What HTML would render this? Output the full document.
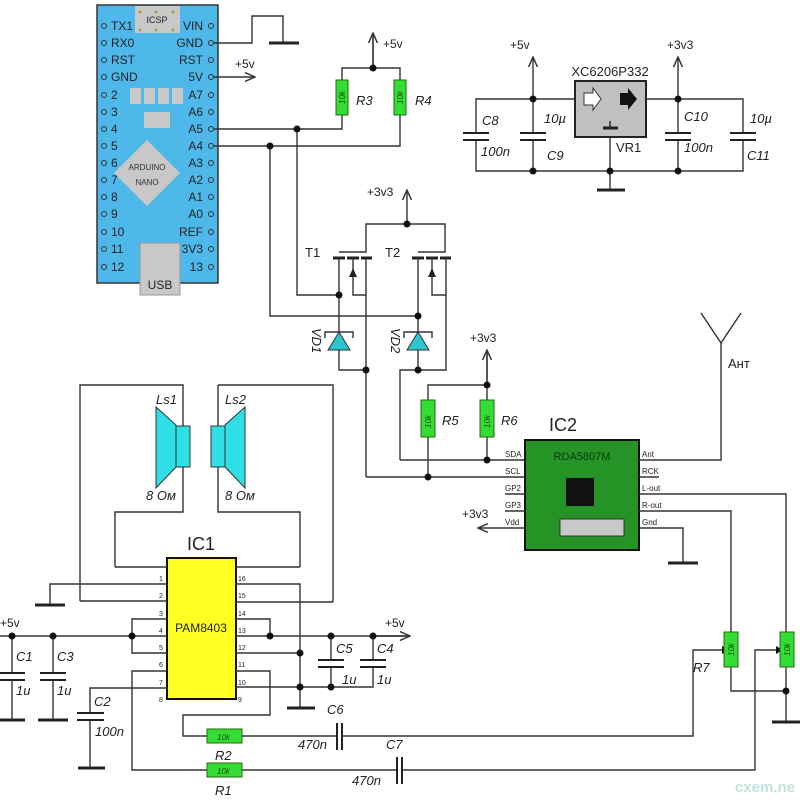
<!DOCTYPE html>
<html><head><meta charset="utf-8"><style>
html,body{margin:0;padding:0;background:#fff;}
svg{display:block;font-family:"Liberation Sans",sans-serif;}
.w{stroke:#333;stroke-width:1.4;fill:none;}
.g{stroke:#222;stroke-width:3;}
.t{font-size:12px;fill:#222;}
.i{font-size:13px;font-style:italic;fill:#222;}
.p{font-size:7px;fill:#222;}
.s{font-size:9px;fill:#222;}
.r{fill:#33dd33;stroke:#2a6a10;stroke-width:1;}
.rt{font-size:8px;font-style:italic;fill:#1a4a10;}
</style></head><body>
<svg width="800" height="800" viewBox="0 0 800 800" xmlns="http://www.w3.org/2000/svg">
<defs>
<marker id="a" viewBox="0 0 10 10" refX="9" refY="5" markerWidth="8" markerHeight="8" orient="auto"><path d="M0,1 L9,5 L0,9" fill="none" stroke="#333" stroke-width="1.3"/></marker>
</defs>
<!-- Arduino -->
<rect x="97" y="5" width="121" height="278" fill="#4fb8ea" stroke="#333" stroke-width="1.5"/>
<rect x="140" y="243" width="40" height="52" fill="#c8c8c8" stroke="#999"/>
<text x="160" y="289" text-anchor="middle" class="t">USB</text>
<rect x="135" y="6" width="45" height="27" fill="#c8c8c8"/>
<text x="157" y="23" text-anchor="middle" style="font-size:9px;fill:#222">ICSP</text>
<g fill="#b0a040"><circle cx="140" cy="12" r="1.5"/><circle cx="156" cy="12" r="1.5"/><circle cx="173" cy="12" r="1.5"/><circle cx="140" cy="30" r="1.5"/><circle cx="156" cy="30" r="1.5"/><circle cx="173" cy="30" r="1.5"/></g>
<g fill="#c8c8c8"><rect x="130" y="88" width="11" height="16"/><rect x="144" y="88" width="11" height="16"/><rect x="158" y="88" width="11" height="16"/><rect x="172" y="88" width="11" height="16"/><rect x="144" y="112" width="26" height="16"/>
<polygon points="147,140 180,173 147,206 114,173"/></g>
<text x="147" y="170" text-anchor="middle" style="font-size:8px;fill:#333">ARDUINO</text>
<text x="147" y="185" text-anchor="middle" style="font-size:8px;fill:#333">NANO</text>
<g class="t" style="font-size:12px">
<text x="111" y="30">TX1</text><text x="111" y="47">RX0</text><text x="111" y="64">RST</text><text x="111" y="81">GND</text><text x="111" y="99">2</text><text x="111" y="116">3</text><text x="111" y="133">4</text><text x="111" y="150">5</text><text x="111" y="167">6</text><text x="111" y="184">7</text><text x="111" y="201">8</text><text x="111" y="218">9</text><text x="111" y="236">10</text><text x="111" y="253">11</text><text x="111" y="271">12</text>
</g>
<g class="t" text-anchor="end">
<text x="203" y="30">VIN</text><text x="203" y="47">GND</text><text x="203" y="64">RST</text><text x="203" y="81">5V</text><text x="203" y="99">A7</text><text x="203" y="116">A6</text><text x="203" y="133">A5</text><text x="203" y="150">A4</text><text x="203" y="167">A3</text><text x="203" y="184">A2</text><text x="203" y="201">A1</text><text x="203" y="218">A0</text><text x="203" y="236">REF</text><text x="203" y="253">3V3</text><text x="203" y="271">13</text>
</g>
<g fill="none" stroke="#333" stroke-width="1">
<circle cx="104" cy="26" r="2.5"/><circle cx="104" cy="43" r="2.5"/><circle cx="104" cy="60" r="2.5"/><circle cx="104" cy="77" r="2.5"/><circle cx="104" cy="95" r="2.5"/><circle cx="104" cy="112" r="2.5"/><circle cx="104" cy="129" r="2.5"/><circle cx="104" cy="146" r="2.5"/><circle cx="104" cy="163" r="2.5"/><circle cx="104" cy="180" r="2.5"/><circle cx="104" cy="197" r="2.5"/><circle cx="104" cy="214" r="2.5"/><circle cx="104" cy="232" r="2.5"/><circle cx="104" cy="249" r="2.5"/><circle cx="104" cy="267" r="2.5"/>
<circle cx="211" cy="26" r="2.5"/><circle cx="211" cy="43" r="2.5"/><circle cx="211" cy="60" r="2.5"/><circle cx="211" cy="77" r="2.5"/><circle cx="211" cy="95" r="2.5"/><circle cx="211" cy="112" r="2.5"/><circle cx="211" cy="129" r="2.5"/><circle cx="211" cy="146" r="2.5"/><circle cx="211" cy="163" r="2.5"/><circle cx="211" cy="180" r="2.5"/><circle cx="211" cy="197" r="2.5"/><circle cx="211" cy="214" r="2.5"/><circle cx="211" cy="232" r="2.5"/><circle cx="211" cy="249" r="2.5"/><circle cx="211" cy="267" r="2.5"/>
</g>
<!-- Arduino wiring -->
<path class="w" d="M213,43 H252 V16 H283 V43"/><line class="g" x1="269" y1="43" x2="299" y2="43"/>
<path class="w" d="M213,77 H255" marker-end="url(#a)"/><text x="235" y="68" class="t">+5v</text>
<path class="w" d="M213,129 H342 V115 M213,146 H400 V115 M342,80 V68 H400 V80 M373,68 V35" />
<path class="w" d="M373,68 V33" marker-end="url(#a)"/><text x="383" y="48" class="t">+5v</text>
<rect x="336" y="80" width="12" height="35" class="r"/><rect x="394" y="80" width="12" height="35" class="r"/>
<text class="rt" transform="translate(345,104) rotate(-90)">10k</text><text class="rt" transform="translate(403,104) rotate(-90)">10k</text>
<text x="356" y="105" class="i">R3</text><text x="415" y="105" class="i">R4</text>
<!-- transistors -->
<path class="w" d="M297,129 V295 H339 M270,146 V316 H418"/>
<path class="w" d="M407,224 V190" marker-end="url(#a)"/><text x="367" y="196" class="t">+3v3</text>
<path class="w" d="M339,252 H366 V224 H445 V252 H418"/>
<g class="g"><line x1="333" y1="258" x2="345" y2="258"/><line x1="347" y1="258" x2="359" y2="258"/><line x1="361" y1="258" x2="372" y2="258"/>
<line x1="412" y1="258" x2="424" y2="258"/><line x1="426" y1="258" x2="438" y2="258"/><line x1="440" y1="258" x2="451" y2="258"/></g>
<path class="w" d="M339,258 V370 H366 M353,258 V295 H366 M366,258 V477 M418,258 V370 M432,258 V295 H446 M446,258 V370 H400 V460"/>
<polygon points="353,268 349,277 357,277" fill="#222"/><polygon points="432,268 428,277 436,277" fill="#222"/>
<text x="305" y="257" class="t" style="font-size:13px">T1</text><text x="385" y="257" class="t" style="font-size:13px">T2</text>
<polygon points="339,332 328,350 350,350" fill="#2bc7d0" stroke="#333"/><path class="w" d="M325,338 V332 H353 V338"/>
<polygon points="418,332 407,350 429,350" fill="#2bc7d0" stroke="#333"/><path class="w" d="M404,338 V332 H432 V338"/>
<text class="i" transform="translate(312,328) rotate(90)">VD1</text><text class="i" transform="translate(391,328) rotate(90)">VD2</text>
<g fill="#111"><circle cx="297" cy="129" r="3.5"/><circle cx="270" cy="146" r="3.5"/><circle cx="373" cy="68" r="3.5"/><circle cx="407" cy="224" r="3.5"/><circle cx="339" cy="295" r="3.5"/><circle cx="418" cy="316" r="3.5"/><circle cx="366" cy="370" r="3.5"/><circle cx="418" cy="370" r="3.5"/></g>
<!-- regulator -->
<rect x="575" y="81" width="71" height="56" fill="#c0c0c0" stroke="#222" stroke-width="2"/>
<text x="610" y="76" text-anchor="middle" class="t" style="font-size:13px">XC6206P332</text>
<polygon points="584,93 593,93 593,88 601,99 593,110 593,105 584,105" fill="#fff" stroke="#333"/>
<polygon points="620,93 628,93 628,88 637,99 628,110 628,105 620,105" fill="#111"/>
<line class="g" x1="603" y1="128" x2="618" y2="128"/><line x1="610" y1="121" x2="610" y2="128" stroke="#222" stroke-width="1.5"/>
<path class="w" d="M575,99 H476 V133 M476,140 V171 H743 V140 M743,133 V99 H646 M533,99 V133 M533,140 V171 M678,99 V133 M678,140 V171 M610,137 V190"/>
<line class="g" x1="597" y1="190" x2="625" y2="190"/>
<g class="g" style="stroke-width:2"><line x1="463" y1="133" x2="489" y2="133"/><line x1="463" y1="140" x2="489" y2="140"/><line x1="520" y1="133" x2="546" y2="133"/><line x1="520" y1="140" x2="546" y2="140"/><line x1="665" y1="133" x2="691" y2="133"/><line x1="665" y1="140" x2="691" y2="140"/><line x1="730" y1="133" x2="756" y2="133"/><line x1="730" y1="140" x2="756" y2="140"/></g>
<path class="w" d="M533,99 V57" marker-end="url(#a)"/><path class="w" d="M678,99 V57" marker-end="url(#a)"/>
<text x="510" y="49" class="t">+5v</text><text x="667" y="49" class="t">+3v3</text>
<text x="482" y="125" class="i">C8</text><text x="481" y="156" class="i">100n</text><text x="544" y="123" class="i">10µ</text><text x="547" y="160" class="i">C9</text>
<text x="616" y="152" class="t" style="font-size:13px">VR1</text>
<text x="684" y="121" class="i">C10</text><text x="684" y="152" class="i">100n</text><text x="750" y="123" class="i">10µ</text><text x="747" y="160" class="i">C11</text>
<g fill="#111"><circle cx="533" cy="99" r="3.5"/><circle cx="678" cy="99" r="3.5"/><circle cx="533" cy="171" r="3.5"/><circle cx="610" cy="171" r="3.5"/><circle cx="678" cy="171" r="3.5"/></g>
<!-- R5 R6 IC2 -->
<path class="w" d="M428,400 V385 H487 V400 M487,385 V352 M428,437 V477 M487,437 V460 M400,460 H525 M366,477 H525"/>
<path class="w" d="M487,385 V350" marker-end="url(#a)"/><text x="470" y="342" class="t">+3v3</text>
<rect x="421" y="400" width="14" height="37" class="r"/><rect x="480" y="400" width="14" height="37" class="r"/>
<text class="rt" transform="translate(431,428) rotate(-90)">10k</text><text class="rt" transform="translate(490,428) rotate(-90)">10k</text>
<text x="442" y="425" class="i">R5</text><text x="501" y="425" class="i">R6</text>
<rect x="525" y="440" width="114" height="110" fill="#259326" stroke="#111" stroke-width="2"/>
<text x="563" y="431" class="t" style="font-size:18px" text-anchor="middle">IC2</text>
<text x="582" y="460" class="t" text-anchor="middle" style="font-size:11px;fill:#0e3a0e">RDA5807M</text>
<rect x="566" y="478" width="28" height="28" fill="#111"/>
<rect x="560" y="519" width="64" height="17" fill="#c8c8c8" stroke="#333"/>
<path class="w" d="M505,494 H525 M505,511 H525 M505,528 H525 M639,460 H721 V343 M639,477 H659 M639,494 H786 V632 M639,511 H731 V632 M639,528 H683 V563"/>
<path class="w" d="M505,528 H478" marker-end="url(#a)"/><text x="462" y="518" class="t">+3v3</text>
<line class="g" x1="668" y1="563" x2="698" y2="563"/>
<path class="w" d="M701,313 L721,343 L741,313"/><text x="728" y="368" class="t" style="font-size:13px">Ант</text>
<g class="p" style="font-size:8px"><text x="505" y="457">SDA</text><text x="505" y="474">SCL</text><text x="505" y="491">GP2</text><text x="505" y="508">GP3</text><text x="505" y="525">Vdd</text>
<text x="642" y="457">Ant</text><text x="642" y="474">RCK</text><text x="642" y="491">L-out</text><text x="642" y="508">R-out</text><text x="642" y="525">Gnd</text></g>
<g fill="#111"><circle cx="487" cy="385" r="3.5"/><circle cx="487" cy="460" r="3.5"/><circle cx="428" cy="477" r="3.5"/></g>
<!-- speakers -->
<path class="w" d="M80,601 V385 H183 V512 H115 V567 M218,385 V512 H300 V567 M218,385 H333 V602"/>
<polygon points="156,407 176,425 176,467 156,488" fill="#2ee0e6" stroke="#333"/><rect x="176" y="426" width="14" height="41" fill="#2ee0e6" stroke="#333"/>
<polygon points="245,407 225,425 225,467 245,488" fill="#2ee0e6" stroke="#333"/><rect x="211" y="426" width="14" height="41" fill="#2ee0e6" stroke="#333"/>
<text x="156" y="404" class="i">Ls1</text><text x="225" y="404" class="i">Ls2</text>
<text x="146" y="500" class="i">8 Ом</text><text x="225" y="500" class="i">8 Ом</text>
<!-- IC1 -->
<rect x="167" y="558" width="69" height="141" fill="#ffff22" stroke="#111" stroke-width="2"/>
<text x="201" y="550" class="t" style="font-size:18px" text-anchor="middle">IC1</text>
<text x="201" y="632" class="t" style="font-size:12px" text-anchor="middle">PAM8403</text>
<path class="w" d="M115,567 H167 M167,584 H50 V605 M80,601 H167 M167,619 H132 V653 H167 M0,636 H167 M167,671 H132 V770 H207 M167,688 H90 V713 M90,720 V768
M236,567 H300 M236,584 H300 V708 M236,602 H333 M236,619 H270 V636 M236,636 H410 M236,653 H300 M236,687 H373 V667 M331,687 V667 M331,636 V660 M373,636 V660
M236,671 H270 V715 H183 V736 H207 M242,736 H337 M342,736 H693 V650 H722 M242,770 H397 M402,770 H755 V650 H776
M12,636 V673 M12,680 V720 M53,636 V673 M53,680 V720
M731,667 V691 H786 V722 M786,667 V691"/>
<path class="w" d="M373,636 H410" marker-end="url(#a)"/>
<polygon points="722,646 722,654 729,650" fill="#111"/><polygon points="776,646 776,654 783,650" fill="#111"/>
<g class="g"><line x1="35" y1="605" x2="65" y2="605"/><line x1="0" y1="720" x2="25" y2="720"/><line x1="38" y1="720" x2="68" y2="720"/><line x1="78" y1="768" x2="105" y2="768"/><line x1="287" y1="708" x2="315" y2="708"/><line x1="772" y1="722" x2="800" y2="722"/></g>
<g class="g" style="stroke-width:2"><line x1="0" y1="673" x2="25" y2="673"/><line x1="0" y1="680" x2="25" y2="680"/><line x1="40" y1="673" x2="66" y2="673"/><line x1="40" y1="680" x2="66" y2="680"/><line x1="77" y1="713" x2="104" y2="713"/><line x1="77" y1="720" x2="104" y2="720"/>
<line x1="318" y1="660" x2="344" y2="660"/><line x1="318" y1="667" x2="344" y2="667"/><line x1="360" y1="660" x2="386" y2="660"/><line x1="360" y1="667" x2="386" y2="667"/>
<line x1="337" y1="723" x2="337" y2="750"/><line x1="342" y1="723" x2="342" y2="750"/><line x1="397" y1="757" x2="397" y2="784"/><line x1="402" y1="757" x2="402" y2="784"/></g>
<rect x="207" y="729" width="35" height="14" class="r"/><rect x="207" y="763" width="35" height="14" class="r"/>
<text x="217" y="740" class="rt">10k</text><text x="217" y="774" class="rt">10k</text>
<rect x="724" y="632" width="14" height="35" class="r"/><rect x="780" y="632" width="14" height="35" class="r"/>
<text class="rt" transform="translate(734,656) rotate(-90)">10k</text><text class="rt" transform="translate(790,656) rotate(-90)">10k</text>
<g class="p"><text x="159" y="581">1</text><text x="159" y="598">2</text><text x="159" y="616">3</text><text x="159" y="633">4</text><text x="159" y="650">5</text><text x="159" y="667">6</text><text x="159" y="685">7</text><text x="159" y="702">8</text>
<text x="238" y="581">16</text><text x="238" y="598">15</text><text x="238" y="616">14</text><text x="238" y="633">13</text><text x="238" y="650">12</text><text x="238" y="667">11</text><text x="238" y="685">10</text><text x="238" y="702">9</text></g>
<text x="0" y="627" class="t">+5v</text><text x="385" y="627" class="t">+5v</text>
<text x="16" y="661" class="i">C1</text><text x="16" y="695" class="i">1u</text><text x="57" y="661" class="i">C3</text><text x="57" y="695" class="i">1u</text>
<text x="94" y="706" class="i">C2</text><text x="95" y="736" class="i">100n</text>
<text x="336" y="653" class="i">C5</text><text x="342" y="684" class="i">1u</text><text x="377" y="653" class="i">C4</text><text x="377" y="684" class="i">1u</text>
<text x="327" y="714" class="i">C6</text><text x="298" y="749" class="i">470n</text><text x="386" y="749" class="i">C7</text><text x="352" y="785" class="i">470n</text>
<text x="215" y="760" class="i">R2</text><text x="215" y="795" class="i">R1</text><text x="693" y="672" class="i">R7</text>
<g fill="#111"><circle cx="132" cy="636" r="3.5"/><circle cx="12" cy="636" r="3.5"/><circle cx="53" cy="636" r="3.5"/><circle cx="270" cy="636" r="3.5"/><circle cx="331" cy="636" r="3.5"/><circle cx="373" cy="636" r="3.5"/><circle cx="300" cy="653" r="3.5"/><circle cx="300" cy="687" r="3.5"/><circle cx="331" cy="687" r="3.5"/><circle cx="786" cy="691" r="3.5"/></g>
<text x="735" y="792" style="font-size:15px;font-weight:bold;fill:#bfe3dc">cxem.ne</text>
</svg>
</body></html>
